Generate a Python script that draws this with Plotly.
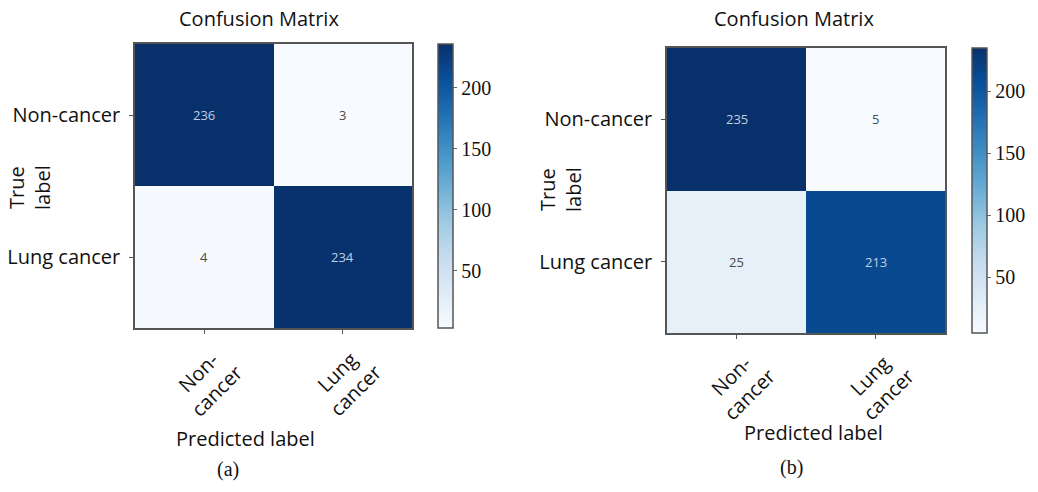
import plotly.graph_objects as go
import plotly.colors as pc

W, H = 1038, 492

categories = ["Non-cancer", "Lung cancer"]
x_tick_labels = ["Non-<br>cancer", "Lung<br>cancer"]
cm_a = [[236, 3], [4, 234]]
cm_b = [[235, 5], [25, 213]]
cbar_ticks = [50, 100, 150, 200]
panel_titles = ["Confusion Matrix", "Confusion Matrix"]
panel_tags = ["(a)", "(b)"]

SANS = "Open Sans"
SERIF = "Liberation Serif"
blues = pc.sequential.Blues


def px_x(v):
    return v / W


def px_y(v):
    return 1 - v / H


# pixel layout of each panel
panels = [
    dict(z=cm_a, xd=(135, 412), yd=(44, 328), cbx=438, title=(259, 19), tag=(228, 469),
         true=(30, 188), pred=(245, 438), xlab_y=381),
    dict(z=cm_b, xd=(667, 945), yd=(48, 333), cbx=972, title=(794, 19), tag=(791, 467),
         true=(560, 190), pred=(813, 432), xlab_y=385),
]

fig = go.Figure()
annotations = []

for i, p in enumerate(panels):
    n = "" if i == 0 else str(i + 1)
    xa, ya = "x" + n, "y" + n
    z = p["z"]
    flat = [v for row in z for v in row]
    zmin, zmax = min(flat), max(flat)
    cb_len = p["yd"][1] - p["yd"][0]
    fig.add_trace(go.Heatmap(
        z=z, x=categories, y=categories, xaxis=xa, yaxis=ya,
        colorscale=blues, zmin=zmin, zmax=zmax, showscale=True,
        xgap=0, ygap=0,
        colorbar=dict(
            x=px_x(p["cbx"]), xanchor="left", xref="paper",
            y=px_y((p["yd"][0] + p["yd"][1]) / 2), yanchor="middle",
            len=cb_len, lenmode="pixels", thickness=15, thicknessmode="pixels",
            outlinewidth=1.5, outlinecolor="#555",
            tickvals=cbar_ticks, ticks="outside", ticklen=4, tickcolor="#666",
            tickfont=dict(family=SERIF, size=20, color="#111"),
            xpad=0, ypad=0,
        ),
    ))
    lay_x = "xaxis" + n
    lay_y = "yaxis" + n
    fig.layout[lay_x] = dict(
        domain=[px_x(p["xd"][0]), px_x(p["xd"][1])], anchor=ya,
        showticklabels=False, ticks="outside", ticklen=4, tickcolor="#555",
        showline=True, linecolor="#555", linewidth=1.5, mirror=True,
        showgrid=False, zeroline=False, type="category",
    )
    fig.layout[lay_y] = dict(
        domain=[px_y(p["yd"][1]), px_y(p["yd"][0])], anchor=xa,
        autorange="reversed", ticks="outside", ticklen=4, tickcolor="#555",
        tickfont=dict(family=SANS, size=20, color="#111"),
        showline=True, linecolor="#555", linewidth=1.5, mirror=True,
        showgrid=False, zeroline=False, type="category", ticklabelstandoff=5,
    )
    # cell values
    for r, row_cat in enumerate(categories):
        for c, col_cat in enumerate(categories):
            v = z[r][c]
            dark = (v - zmin) / (zmax - zmin) > 0.5
            annotations.append(dict(
                x=col_cat, y=row_cat, xref=xa, yref=ya, text=str(v), showarrow=False,
                font=dict(family=SANS, size=13, color="#c3cde0" if dark else "#4a4a4a"),
            ))
    # x tick labels (rotated)
    for c, col_cat in enumerate(categories):
        annotations.append(dict(
            x=col_cat, y=px_y(p["xlab_y"]), xref=xa, yref="paper", text=x_tick_labels[c],
            showarrow=False, textangle=-45, xanchor="center", yanchor="middle", xshift=3,
            font=dict(family=SANS, size=20, color="#111"),
        ))
    # titles and labels
    annotations.append(dict(x=px_x(p["title"][0]), y=px_y(p["title"][1]), xref="paper", yref="paper",
                            text=panel_titles[i], showarrow=False, xanchor="center", yanchor="middle",
                            font=dict(family=SANS, size=20, color="#111")))
    annotations.append(dict(x=px_x(p["pred"][0]), y=px_y(p["pred"][1]), xref="paper", yref="paper",
                            text="Predicted label", showarrow=False, xanchor="center", yanchor="middle",
                            font=dict(family=SANS, size=20, color="#111")))
    annotations.append(dict(x=px_x(p["true"][0]), y=px_y(p["true"][1]), xref="paper", yref="paper",
                            text="True<br>label", showarrow=False, textangle=-90,
                            xanchor="center", yanchor="middle",
                            font=dict(family=SANS, size=20, color="#111")))
    annotations.append(dict(x=px_x(p["tag"][0]), y=px_y(p["tag"][1]), xref="paper", yref="paper",
                            text=panel_tags[i], showarrow=False, xanchor="center", yanchor="middle",
                            font=dict(family=SERIF, size=20, color="#111")))

fig.update_layout(
    width=W, height=H, margin=dict(l=0, r=0, t=0, b=0),
    paper_bgcolor="white", plot_bgcolor="white",
    annotations=annotations, showlegend=False,
)

fig.write_html("out.html")
